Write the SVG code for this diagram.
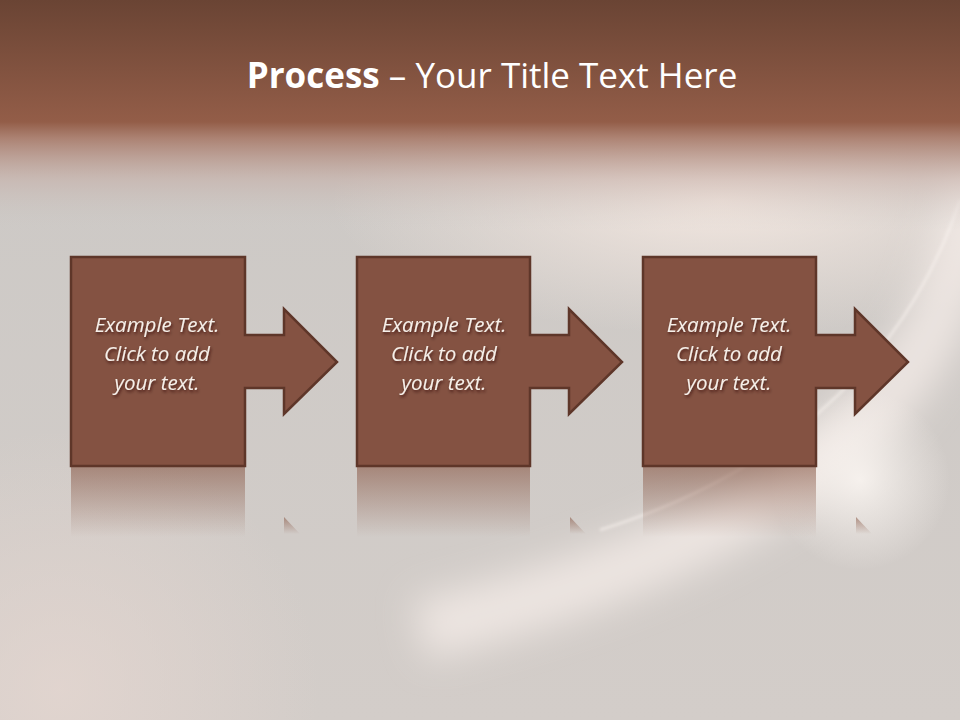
<svg xmlns="http://www.w3.org/2000/svg" width="960" height="720" viewBox="0 0 960 720">
<defs>
<linearGradient id="bg" x1="0" y1="0" x2="0" y2="1">
<stop offset="0" stop-color="#cbc8c5"/>
<stop offset="1" stop-color="#d3cdc9"/>
</linearGradient>
<linearGradient id="top" x1="0" y1="0" x2="0" y2="230" gradientUnits="userSpaceOnUse">
<stop offset="0" stop-color="#6a4434"/>
<stop offset="0.53" stop-color="#935d48"/>
<stop offset="0.6" stop-color="#a87a69" stop-opacity="0.9"/>
<stop offset="0.78" stop-color="#c4aaa2" stop-opacity="0.5"/>
<stop offset="1" stop-color="#cbc8c5" stop-opacity="0"/>
</linearGradient>
<radialGradient id="glow" cx="720" cy="200" r="300" gradientUnits="userSpaceOnUse" gradientTransform="translate(720 200) scale(1.3 0.45) translate(-720 -200)">
<stop offset="0" stop-color="#f4e8e1" stop-opacity="0.95"/>
<stop offset="1" stop-color="#f4e8e1" stop-opacity="0"/>
</radialGradient>
<radialGradient id="glow2" cx="60" cy="690" r="260" gradientUnits="userSpaceOnUse">
<stop offset="0" stop-color="#e4d6d0" stop-opacity="0.8"/>
<stop offset="1" stop-color="#e4d6d0" stop-opacity="0"/>
</radialGradient>
<radialGradient id="spot" cx="860" cy="480" r="90" gradientUnits="userSpaceOnUse">
<stop offset="0" stop-color="#fbf6f2" stop-opacity="0.85"/>
<stop offset="1" stop-color="#fbf6f2" stop-opacity="0"/>
</radialGradient>
<linearGradient id="refl" x1="0" y1="0" x2="0" y2="1">
<stop offset="0" stop-color="#8a5a48" stop-opacity="0.6"/>
<stop offset="1" stop-color="#8a5a48" stop-opacity="0"/>
</linearGradient>
<filter id="blur" x="-30%" y="-30%" width="160%" height="160%"><feGaussianBlur stdDeviation="18"/></filter>
<filter id="blur2" x="-20%" y="-20%" width="140%" height="140%"><feGaussianBlur stdDeviation="1.5"/></filter>
<filter id="ts" x="-10%" y="-20%" width="120%" height="150%"><feDropShadow dx="1" dy="2" stdDeviation="1.5" flood-color="#2a1208" flood-opacity="0.7"/></filter>
</defs>
<style>
.shape{fill:#845242;stroke:#5e3629;stroke-width:2.5;stroke-linejoin:miter}
.lbl{font-family:"Open Sans","Liberation Sans",sans-serif;font-style:italic;font-size:20.5px;fill:#f6efe9;text-anchor:middle;filter:url(#ts)}
.rf{fill:url(#refl)}
</style>
<rect width="960" height="720" fill="url(#bg)"/>
<rect width="960" height="720" fill="url(#glow2)"/>
<rect width="960" height="720" fill="url(#glow)"/>
<path d="M975 170 C 960 390, 800 540, 420 630" fill="none" stroke="#f8f0eb" stroke-width="60" stroke-opacity="0.7" filter="url(#blur)"/>
<rect width="960" height="720" fill="url(#spot)"/>
<path d="M960 200 C 900 380, 760 480, 600 530" fill="none" stroke="#faf4f0" stroke-width="2.5" stroke-opacity="0.6" filter="url(#blur2)"/>
<rect width="960" height="230" fill="url(#top)"/>
<text x="492" y="88" font-family="'Open Sans','Liberation Sans',sans-serif" font-size="35" fill="#ffffff" text-anchor="middle"><tspan font-weight="bold">Process</tspan> – Your Title Text Here</text>
<g id="reflections">
<rect class="rf" x="71" y="467" width="174" height="70"/>
<rect class="rf" x="357" y="467" width="173" height="70"/>
<rect class="rf" x="643" y="467" width="173" height="70"/>
<path class="rf" d="M284 517 L300 534 L284 534 Z"/>
<path class="rf" d="M570 517 L586 534 L570 534 Z"/>
<path class="rf" d="M856 517 L872 534 L856 534 Z"/>
</g>
<g id="step1">
<path class="shape" d="M71 257 H245 V335 H284 V309 L337 362 L284 414 V388 H245 V466 H71 Z"/>
<text class="lbl"><tspan x="157" y="332">Example Text.</tspan><tspan x="157" y="361">Click  to add</tspan><tspan x="157" y="390">your text.</tspan></text>
</g>
<g id="step2">
<path class="shape" d="M357 257 H530 V335 H569 V309 L622 362 L569 414 V388 H530 V466 H357 Z"/>
<text class="lbl"><tspan x="444" y="332">Example Text.</tspan><tspan x="444" y="361">Click  to add</tspan><tspan x="444" y="390">your text.</tspan></text>
</g>
<g id="step3">
<path class="shape" d="M643 257 H816 V335 H855 V309 L908 362 L855 414 V388 H816 V466 H643 Z"/>
<text class="lbl"><tspan x="729" y="332">Example Text.</tspan><tspan x="729" y="361">Click  to add</tspan><tspan x="729" y="390">your text.</tspan></text>
</g>
<g id="connectors"/>
</svg>
